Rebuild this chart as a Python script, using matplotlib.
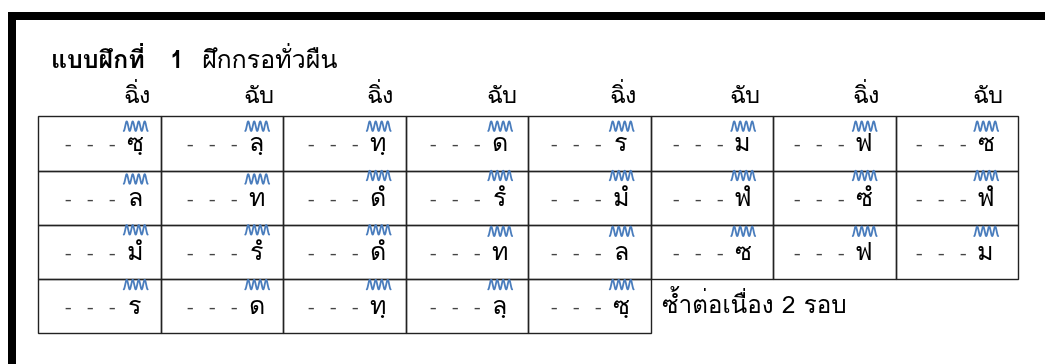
import numpy as np
import matplotlib
matplotlib.use("Agg")
import matplotlib.pyplot as plt
from matplotlib.patches import Rectangle

plt.rcParams["font.family"] = ["Loma", "DejaVu Sans"]

# exercise content
title_bold = "แบบฝึกที่   1"
title_rest = "ฝึกกรอทั่วผืน"
beats = ["ฉิ่ง", "ฉับ", "ฉิ่ง", "ฉับ", "ฉิ่ง", "ฉับ", "ฉิ่ง", "ฉับ"]
row1 = ["ซฺ", "ลฺ", "ทฺ", "ด", "ร", "ม", "ฟ", "ซ"]
row2 = ["ล", "ท", "ดํ", "รํ", "มํ", "ฟํ", "ซํ", "ฟํ"]
row3 = ["มํ", "รํ", "ดํ", "ท", "ล", "ซ", "ฟ", "ม"]
row4 = ["ร", "ด", "ทฺ", "ลฺ", "ซฺ"]
rows = [row1, row2, row3, row4]
footer = "ซ้ำต่อเนื่อง 2 รอบ"

# layout in pixels
W, H = 1045, 364
LEFT, TOP = 38.3, 116.2
COL_W, ROW_H = 122.5, 54.3
PITCH = 121.5            # text pitch is slightly tighter than the cells
NOTE_X0 = 134.7
BASE = 35.0
TRILL_OFF = [10.0, 8.5, 6.5, 5.5]
BLUE = "#4a7dbd"


def trill(ax, xc, yc, width=24.0, amp=4.8, waves=4):
    t = np.linspace(0, 1, 160)
    ax.plot(xc - width / 2 + width * t, yc + amp * np.cos(2 * np.pi * waves * t),
            color=BLUE, lw=1.3, solid_capstyle="round")


fig = plt.figure(figsize=(W / 100, H / 100), dpi=100)
ax = fig.add_axes([0, 0, 1, 1])
ax.set_xlim(0, W)
ax.set_ylim(H, 0)
ax.axis("off")

# page frame
ax.add_patch(Rectangle((8, 12), W - 8, 8, color="black", lw=0))
ax.add_patch(Rectangle((8, 12), 8, H - 12, color="black", lw=0))

ax.text(50.7, 68, title_bold, fontsize=18, fontweight="bold", va="baseline")
ax.text(202, 68, title_rest, fontsize=18, va="baseline")

for c, beat in enumerate(beats):
    ax.text(137 + c * PITCH, 103, beat, fontsize=17, ha="center", va="baseline")

for r, notes in enumerate(rows):
    top = TOP + r * ROW_H
    for c, note in enumerate(notes):
        ax.add_patch(Rectangle((LEFT + c * COL_W, top), COL_W, ROW_H,
                               fill=False, edgecolor="#222222", lw=1.0))
        xc = NOTE_X0 + c * PITCH
        for dx in (-67, -45, -23):
            ax.text(xc + dx, top + BASE, "-", fontsize=14, ha="center",
                    va="baseline", color="#444444")
        ax.text(xc, top + BASE, note, fontsize=18, ha="center", va="baseline")
        off = TRILL_OFF[r]
        if "ํ" in note:
            off = min(off, 5.0)
        trill(ax, xc + 1, top + off)

ax.text(LEFT + len(row4) * COL_W + 11.2, TOP + 3 * ROW_H + BASE - 1, footer,
        fontsize=17.5, va="baseline")

fig.savefig("out.png", dpi=100)
